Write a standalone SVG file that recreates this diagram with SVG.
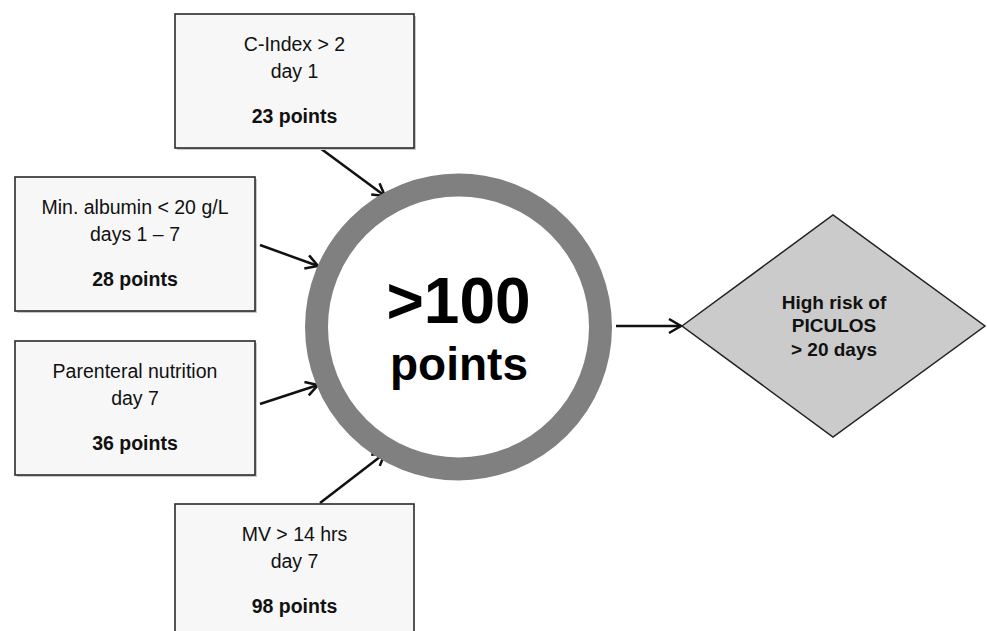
<svg xmlns="http://www.w3.org/2000/svg" width="987" height="631" viewBox="0 0 987 631">
<defs>
<style>
.box{fill:#f7f7f7;stroke:#2a2a2a;stroke-width:1.6}
.shadow{fill:#c9c9c9}
.t{font-family:"Liberation Sans",Arial,sans-serif;font-size:19.5px;fill:#111;text-anchor:middle}
.b{font-weight:bold}
.conn{stroke:#111;stroke-width:2.5;fill:none;marker-end:url(#arr)}
</style>
<marker id="arr" markerUnits="userSpaceOnUse" markerWidth="16" markerHeight="18" refX="13" refY="8" orient="auto">
<path d="M1,1 L13,8 L1,15" fill="none" stroke="#111" stroke-width="2.5" stroke-linejoin="miter"/>
</marker>
</defs>
<rect width="987" height="631" fill="#ffffff"/>

<g id="connectors">
<line class="conn" x1="320" y1="148" x2="385" y2="196"/>
<line class="conn" x1="260" y1="245" x2="318" y2="266"/>
<line class="conn" x1="260" y1="404" x2="318" y2="385"/>
<line class="conn" x1="320" y1="503" x2="385" y2="453"/>
<line class="conn" x1="616" y1="326" x2="681" y2="326"/>
</g>

<g id="node-cindex">
<rect class="shadow" x="177" y="16" width="239" height="134"/>
<rect class="box" x="175" y="14" width="239" height="134"/>
<text class="t" x="294.5" y="51">C-Index &gt; 2</text>
<text class="t" x="294.5" y="78">day 1</text>
<text class="t b" x="294.5" y="123">23 points</text>
</g>

<g id="node-albumin">
<rect class="shadow" x="17" y="179" width="240" height="134"/>
<rect class="box" x="15" y="177" width="240" height="134"/>
<text class="t" x="135" y="214">Min. albumin &lt; 20 g/L</text>
<text class="t" x="135" y="241">days 1 – 7</text>
<text class="t b" x="135" y="286">28 points</text>
</g>

<g id="node-parenteral">
<rect class="shadow" x="17" y="343" width="240" height="134"/>
<rect class="box" x="15" y="341" width="240" height="134"/>
<text class="t" x="135" y="378">Parenteral nutrition</text>
<text class="t" x="135" y="405">day 7</text>
<text class="t b" x="135" y="450">36 points</text>
</g>

<g id="node-mv">
<rect class="box" x="175" y="504" width="239" height="140"/>
<text class="t" x="294.5" y="541">MV &gt; 14 hrs</text>
<text class="t" x="294.5" y="568">day 7</text>
<text class="t b" x="294.5" y="613">98 points</text>
</g>

<g id="node-score">
<circle cx="458.5" cy="327" r="142" fill="#ffffff" stroke="#808080" stroke-width="23"/>
<text x="458.5" y="323" font-family="Liberation Sans,Arial,sans-serif" font-weight="bold" font-size="64" fill="#000" text-anchor="middle">&gt;100</text>
<text x="459" y="380" font-family="Liberation Sans,Arial,sans-serif" font-weight="bold" font-size="46" fill="#000" text-anchor="middle">points</text>
</g>

<g id="node-risk">
<polygon points="682,326 833,215 985,326 833,437" fill="#cbcbcb" stroke="#222" stroke-width="1.5"/>
<text class="t b" x="834" y="309" style="font-size:19px">High risk of</text>
<text class="t b" x="834" y="332" style="font-size:19px">PICULOS</text>
<text class="t b" x="834" y="356" style="font-size:19px">&gt; 20 days</text>
</g>
</svg>
